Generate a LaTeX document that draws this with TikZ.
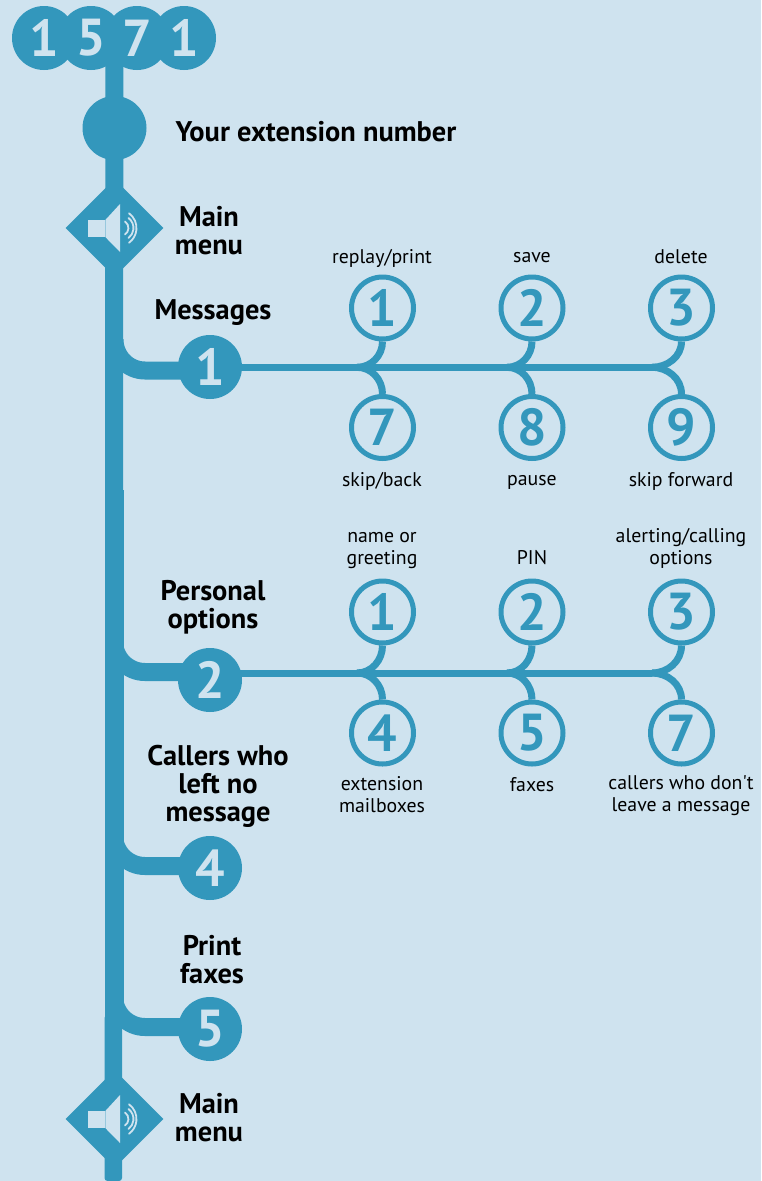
\documentclass[tikz,border=0pt]{standalone}
\usepackage{fontspec}
\setmainfont{PT Sans}
\usepackage{tikz}
\usetikzlibrary{backgrounds,calc,shapes.geometric}
\definecolor{paleblue}{HTML}{CFE3EF}
\definecolor{lineblue}{HTML}{3397BC}
\tikzset{
  key/.style={circle,fill=lineblue,text=paleblue,minimum size=64pt,inner sep=0pt,font=\fontsize{52}{52}\selectfont\bfseries},
  opt/.style={circle,draw=lineblue,line width=5pt,fill=paleblue,text=lineblue,minimum size=62pt,inner sep=0pt,font=\fontsize{52}{52}\selectfont\bfseries},
  head/.style={align=center,inner sep=0pt,font=\fontsize{28.4}{28}\selectfont\bfseries},
  note/.style={align=center,inner sep=0pt,font=\fontsize{19.8}{22}\selectfont},
  menu/.style={diamond,fill=lineblue,minimum size=98pt,inner sep=0pt},
  trunk/.style={draw=lineblue,line width=18pt},
  wire/.style={draw=lineblue,line width=7pt},
  speaker/.pic={
    \fill[paleblue] (-26.5,-8) rectangle (-9.8,9);
    \fill[paleblue] (-9.2,-8) -- (5.5,-24) -- (5.5,24) -- (-9.2,9) -- cycle;
    \draw[paleblue,line width=1.8pt,line cap=round] (10.5,-6.5) arc (-56:56:7.8);
    \draw[paleblue,line width=1.8pt,line cap=round] (14,-10) arc (-53:53:12.5);
    \draw[paleblue,line width=1.8pt,line cap=round] (14.5,-14.7) arc (-54:54:18.2);
  }
}
\begin{document}
\begin{tikzpicture}[x=1pt,y=-1pt]
\useasboundingbox (0,0) rectangle (761,1181);
% dialled number
\node[key] (n1) at (44,38) {1};
\node[key] (n5) at (91,38) {5};
\node[key] (n7) at (137,38) {7};
\node[key] (n0) at (184,38) {1};
\node[key] (ext) at (114.5,128) {};
\node[head] (exttext) at (316,132) {Your extension number};
\node[menu] (menuA) at (114.5,228) {};
\pic at (menuA) {speaker};
\node[head] (menuAtext) at (209,231) {Main\\menu};
\node[menu] (menuB) at (114.5,1119) {};
\pic at (menuB) {speaker};
\node[head] (menuBtext) at (209,1118) {Main\\menu};
% messages
\node[key] (msg) at (210,367) {1};
\node[head] (msgtext) at (213,313) {Messages};
\node[opt] (msgA) at (382.5,308) {1};
\node[opt] (msgB) at (532,308) {2};
\node[opt] (msgC) at (681.5,308) {3};
\node[opt] (msgD) at (382.5,427.5) {7};
\node[opt] (msgE) at (532,427.5) {8};
\node[opt] (msgF) at (681.5,427.5) {9};
\node[note] at (382,258.5) {replay/print};
\node[note] at (532,258) {save};
\node[note] at (681,257) {delete};
\node[note] at (382,481.5) {skip/back};
\node[note] at (532,482) {pause};
\node[note] at (681,481.5) {skip forward};
% personal options
\node[key] (opts) at (210,680) {2};
\node[head] (optstext) at (213,607) {Personal\\options};
\node[opt] (optA) at (382.5,612) {1};
\node[opt] (optB) at (532,612) {2};
\node[opt] (optC) at (681.5,612) {3};
\node[opt] (optD) at (382.5,733) {4};
\node[opt] (optE) at (532,733) {5};
\node[opt] (optF) at (681.5,733) {7};
\node[note] at (382,551) {name or\\greeting};
\node[note] at (532,558) {PIN};
\node[note] at (681,548) {alerting/calling\\options};
\node[note] at (382,795) {extension\\mailboxes};
\node[note] at (532,784.5) {faxes};
\node[note] at (681,796) {callers who don\textquotesingle t\\leave a message};
% other keys
\node[key] (nomsg) at (210,868) {4};
\node[head] (nomsgtext) at (218,786) {Callers who\\left no\\message};
\node[key] (fax) at (210,1029) {5};
\node[head] (faxtext) at (212,960) {Print\\faxes};
% junctions
\coordinate (top) at (114.5,38);
\coordinate (stepA) at (114,490);
\coordinate (stepB) at (114,1029);
\coordinate (msgfork) at (114.5,339.5);
\coordinate (msgjoin) at (145,370.5);
\coordinate (optsfork) at (114,641);
\coordinate (optsjoin) at (145,672);
\coordinate (nomsgfork) at (114,835);
\coordinate (nomsgjoin) at (145,866);
\coordinate (faxfork) at (114,996);
\coordinate (faxjoin) at (145,1027);
\coordinate (msgend) at (652,367.3);
\coordinate (msgendA) at (357,367.3);
\coordinate (msgendB) at (507,367.3);
\coordinate (optsend) at (652,673);
\coordinate (optsendA) at (357,673);
\coordinate (optsendB) at (507,673);
\begin{scope}[on background layer]
\fill[paleblue] (0,0) rectangle (761,1181);
\draw[trunk] (top) -- (stepA);
\draw[trunk,line width=19pt] (stepA) -- (stepB);
\fill[lineblue,rounded corners=3pt] (104.5,1015) rectangle (122,1181);
\draw[trunk] (msgfork) to[out=-90,in=180] (msgjoin) -- (msgjoin -| msg);
\draw[trunk] (optsfork) to[out=-90,in=180] (optsjoin) -- (optsjoin -| opts);
\draw[trunk] (nomsgfork) to[out=-90,in=180] (nomsgjoin) -- (nomsgjoin -| nomsg);
\draw[trunk] (faxfork) to[out=-90,in=180] (faxjoin) -- (faxjoin -| fax);
\draw[wire] (msgend -| msg) -- (msgend);
\draw[wire] (msgA.south) to[out=-90,in=0] (msgendA);
\draw[wire] (msgB.south) to[out=-90,in=0] (msgendB);
\draw[wire] (msgC.south) to[out=-90,in=0] (msgend);
\draw[wire] (msgD.north) to[out=90,in=0] (msgendA);
\draw[wire] (msgE.north) to[out=90,in=0] (msgendB);
\draw[wire] (msgF.north) to[out=90,in=0] (msgend);
\draw[wire] (optsend -| opts) -- (optsend);
\draw[wire] (optA.south) to[out=-90,in=0] (optsendA);
\draw[wire] (optB.south) to[out=-90,in=0] (optsendB);
\draw[wire] (optC.south) to[out=-90,in=0] (optsend);
\draw[wire] (optD.north) to[out=90,in=0] (optsendA);
\draw[wire] (optE.north) to[out=90,in=0] (optsendB);
\draw[wire] (optF.north) to[out=90,in=0] (optsend);
\end{scope}
\end{tikzpicture}
\end{document}
